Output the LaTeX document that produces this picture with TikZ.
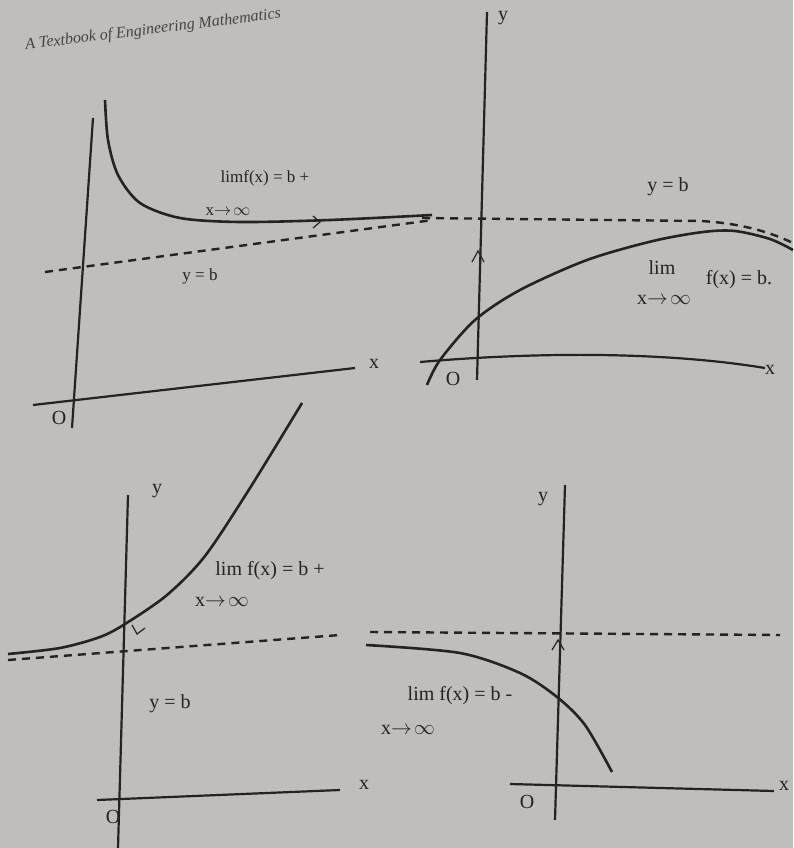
\documentclass[tikz,border=0pt]{standalone}
\usepackage{fontspec}
\setmainfont{Liberation Serif}
\usetikzlibrary{calc}
\definecolor{pagegrey}{RGB}{192,190,186}
\definecolor{ink}{RGB}{36,34,34}

\begin{document}
\begin{tikzpicture}[x=1pt,y=-1pt,
    axis/.style={draw=ink, line width=2.2pt},
    crv/.style={draw=ink, line width=2.6pt},
    asym/.style={draw=ink, line width=2.4pt, dash pattern=on 8pt off 6pt},
    lbl/.style={text=ink, font=\fontsize{20}{22}\selectfont, inner sep=1pt},
    sml/.style={text=ink, font=\fontsize{17}{19}\selectfont, inner sep=1pt},
    chev/.style={draw=ink, line width=1.2pt}
]
\fill[pagegrey] (0,0) rectangle (793,848);
\useasboundingbox (0,0) rectangle (793,848);

\node[text=ink!85, font=\fontsize{16}{18}\itshape, rotate=7, anchor=west] (head) at (22,46) {A Textbook of Engineering Mathematics};

% top left: f(x) -> b+ from above
\coordinate (ya1) at (93,118);
\coordinate (yb1) at (72,428);
\coordinate (xa1) at (33,405);
\coordinate (xb1) at (355,368);
\coordinate (da1) at (45,272);
\coordinate (db1) at (433,220);
\draw[axis] (ya1) -- (yb1);
\draw[axis] (xa1) -- (xb1);
\draw[asym] (da1) -- (db1);
\draw[crv] plot[smooth] coordinates {(105,100) (108,140) (118,175) (140,203) (180,218) (240,222) (330,220) (432,215)};
\draw[chev] (313,216) -- (320,222) -- (313,228);
\node[lbl] (x1) at (374,364) {x};
\node[lbl] (o1) at (59,418) {O};
\node[sml] (lim1) at (265,178) {limf(x) = b +};
\node[sml] (to1) at (228,212) {x$\to\!\infty$};
\node[sml] (yb1lbl) at (200,276) {y = b};

% top right: f(x) -> b- from below
\coordinate (ya2) at (487,12);
\coordinate (yb2) at (477,380);
\coordinate (xa2) at (420,362);
\coordinate (xb2) at (765,368);
\coordinate (da2) at (422,218);
\coordinate (db2) at (793,243);
\draw[axis] (ya2) -- (yb2);
\draw[axis] (xa2) .. controls (560,350) and (680,354) .. (xb2);
\draw[asym] (da2) -- (700,221) .. controls (740,223) and (770,232) .. (db2);
\draw[crv] plot[smooth] coordinates {(427,385) (440,360) (475,320) (520,290) (587,260) (653,241) (703,232) (735,231) (770,239) (793,250)};
\draw[chev] (472,262) -- (478,251) -- (484,262);
\node[lbl] (y2) at (503,18) {y};
\node[lbl] (x2) at (770,370) {x};
\node[lbl] (o2) at (453,379) {O};
\node[lbl] (yb2lbl) at (668,187) {y = b};
\node[lbl] (lim2) at (662,268) {lim};
\node[lbl] (f2) at (739,280) {f(x) = b.};
\node[lbl] (to2) at (664,300) {x$\to\!\infty$};

% bottom left: f(x) -> b+ growing
\coordinate (ya3) at (128,495);
\coordinate (yb3) at (118,848);
\coordinate (xa3) at (97,800);
\coordinate (xb3) at (340,790);
\coordinate (da3) at (8,660);
\coordinate (db3) at (340,635);
\draw[axis] (ya3) -- (yb3);
\draw[axis] (xa3) -- (xb3);
\draw[asym] (da3) -- (db3);
\draw[crv] plot[smooth] coordinates {(8,654) (60,648) (100,637) (125,624) (167,595) (205,556) (250,488) (302,403)};
\draw[chev] (132,625) -- (137,634) -- (145,628);
\node[lbl] (y3) at (157,491) {y};
\node[lbl] (x3) at (364,785) {x};
\node[lbl] (o3) at (113,817) {O};
\node[lbl] (lim3) at (270,571) {lim f(x) = b +};
\node[lbl] (to3) at (222,602) {x$\to\!\infty$};
\node[lbl] (yb3lbl) at (170,704) {y = b};

% bottom right: f(x) -> b- falling
\coordinate (ya4) at (565,485);
\coordinate (yb4) at (555,820);
\coordinate (xa4) at (510,784);
\coordinate (xb4) at (774,791);
\coordinate (da4) at (370,632);
\coordinate (db4) at (780,635);
\draw[axis] (ya4) -- (yb4);
\draw[axis] (xa4) -- (xb4);
\draw[asym] (da4) -- (db4);
\draw[crv] plot[smooth] coordinates {(366,645) (460,653) (520,673) (557,697) (585,725) (612,772)};
\draw[chev] (552,650) -- (558,640) -- (564,650);
\node[lbl] (y4) at (543,499) {y};
\node[lbl] (x4) at (784,786) {x};
\node[lbl] (o4) at (527,802) {O};
\node[lbl] (lim4) at (460,696) {lim f(x) = b -};
\node[lbl] (to4) at (408,730) {x$\to\!\infty$};
\end{tikzpicture}
\end{document}
